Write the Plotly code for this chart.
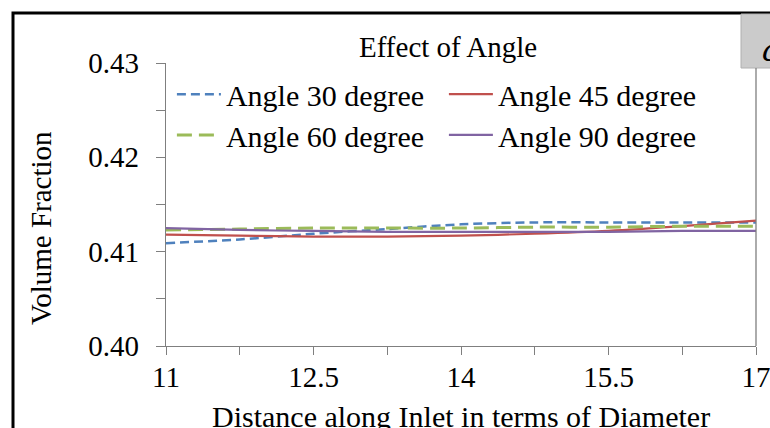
import plotly.graph_objects as go

x_vals = [11, 11.75, 12.5, 13.25, 14, 14.75, 15.5, 16.25, 17]
angle30 = [0.4109, 0.4113, 0.4119, 0.4124, 0.4129, 0.4131, 0.4131, 0.4131, 0.4131]
angle45 = [0.4118, 0.4117, 0.4116, 0.4116, 0.4117, 0.4119, 0.4122, 0.4127, 0.4133]
angle60 = [0.4123, 0.4124, 0.4125, 0.4125, 0.4125, 0.4126, 0.4126, 0.4127, 0.4127]
angle90 = [0.4125, 0.4123, 0.4122, 0.4121, 0.4121, 0.4121, 0.4121, 0.4122, 0.4122]

x_ticks = [11, 12.5, 14, 15.5, 17]
y_ticks = [0.40, 0.41, 0.42, 0.43]

series = [
    ("Angle 30 degree", angle30, "#4F81BD", "9px,5px", 2.5, "legend"),
    ("Angle 45 degree", angle45, "#C0504D", "solid", 2.2, "legend"),
    ("Angle 60 degree", angle60, "#9BBB59", "15px,7px", 3, "legend2"),
    ("Angle 90 degree", angle90, "#8064A2", "solid", 2.2, "legend2"),
]

FONT = "Liberation Serif"
fig = go.Figure()
for name, ys, color, dash, w, lg in series:
    fig.add_trace(go.Scatter(
        x=x_vals, y=ys, name=name, mode="lines", legend=lg,
        line=dict(color=color, dash=dash, width=w, shape="spline", smoothing=0.8),
    ))

axis_col = "#7f7f7f"
leg_common = dict(
    orientation="h", xanchor="left", yanchor="middle",
    entrywidth=213, entrywidthmode="pixels", itemwidth=44,
    font=dict(family=FONT, size=30, color="black"),
    bgcolor="rgba(0,0,0,0)", borderwidth=0,
)
fig.update_layout(
    width=770, height=428,
    margin=dict(l=166, r=14, t=63, b=82, autoexpand=False),
    paper_bgcolor="white", plot_bgcolor="white",
    font=dict(family=FONT, color="black", size=29),
    showlegend=True,
    legend=dict(x=0.01, y=0.890, **leg_common),
    legend2=dict(x=0.01, y=0.746, **leg_common),
    xaxis=dict(
        range=[11, 17], tickvals=x_ticks, ticktext=[str(v) for v in x_ticks],
        showgrid=False, zeroline=False, showline=True, linecolor=axis_col, linewidth=1.3,
        ticks="outside", ticklen=8, tickcolor=axis_col, tickwidth=1.3,
        tickfont=dict(family=FONT, size=29), ticklabelstandoff=-3,
        ticklabeloverflow="allow", automargin=False,
        minor=dict(dtick=0.75, tick0=11, ticks="outside", ticklen=8, tickcolor=axis_col, tickwidth=1.3, showgrid=False),
    ),
    yaxis=dict(
        range=[0.40, 0.43], tickvals=y_ticks, ticktext=["%.2f" % v for v in y_ticks],
        showgrid=False, zeroline=False, showline=True, linecolor=axis_col, linewidth=1.3,
        ticks="outside", ticklen=9, tickcolor=axis_col, tickwidth=1.3,
        tickfont=dict(family=FONT, size=29), ticklabelstandoff=11, automargin=False,
        minor=dict(dtick=0.005, tick0=0.40, ticks="outside", ticklen=9, tickcolor=axis_col, tickwidth=1.3, showgrid=False),
    ),
    annotations=[
        dict(text="Effect of Angle", xref="paper", yref="paper", x=(448 - 166) / 590, y=1.0, yshift=16,
             xanchor="center", yanchor="middle", showarrow=False,
             font=dict(family=FONT, size=29)),
        dict(text="Volume Fraction", xref="paper", yref="paper", x=0, xshift=-125, y=(346 - 228) / 283,
             xanchor="center", yanchor="middle", textangle=-90, showarrow=False,
             font=dict(family=FONT, size=29)),
        dict(text="Distance along Inlet in terms of Diameter", xref="paper", yref="paper",
             x=0.5, y=0, yshift=-70, xanchor="center", yanchor="middle", showarrow=False,
             font=dict(family=FONT, size=30)),
        dict(text="<i>a</i>", xref="paper", yref="paper", x=(760 - 166) / 590, y=(346 - 50) / 283,
             xanchor="left", yanchor="middle", showarrow=False,
             font=dict(family="DejaVu Serif", size=32)),
    ],
    shapes=[
        dict(type="rect", xref="paper", yref="paper",
             x0=(13 - 166) / 590, x1=(800 - 166) / 590, y0=(346 - 500) / 283, y1=(346 - 13) / 283,
             line=dict(color="black", width=3), fillcolor="rgba(0,0,0,0)", layer="below"),
        dict(type="rect", xref="paper", yref="paper",
             x0=(741 - 166) / 590, x1=(800 - 166) / 590, y0=(346 - 68) / 283, y1=(346 - 14) / 283,
             line=dict(color="#b0b0b0", width=1), fillcolor="#cbcbcb", layer="below"),
        dict(type="line", xref="paper", yref="paper", x0=1, x1=1, y0=0, y1=(346 - 68) / 283,
             line=dict(color=axis_col, width=1.3)),
    ],
)

fig.write_html("out.html")
